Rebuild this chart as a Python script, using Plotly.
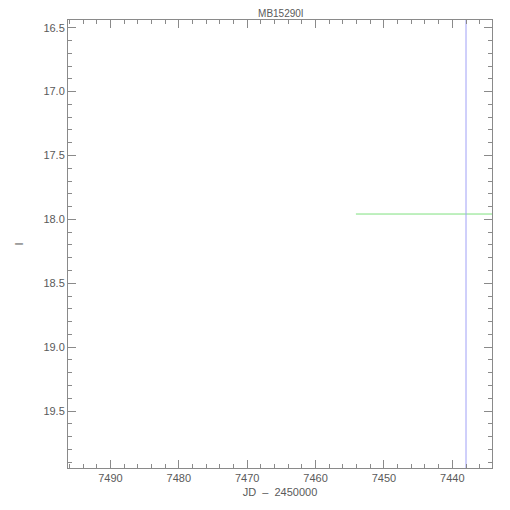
import plotly.graph_objects as go

# Data
title_text = "MB15290I"
baseline_jd = [7454.1, 7430.0]
baseline_mag = [17.958, 17.958]
event_jd = [7438.0, 7438.0]
event_mag = [15.0, 21.0]
x_range = [7496.2, 7434.2]
y_range = [19.945, 16.44]

axis_col = "#8a8a8a"
text_col = "#5a5a5a"
font_family = "Liberation Sans, Arial, sans-serif"

fig = go.Figure()
fig.add_trace(go.Scatter(x=baseline_jd, y=baseline_mag, mode="lines",
                         line=dict(color="#7ee07e", width=1),
                         showlegend=False, hoverinfo="skip"))
fig.add_trace(go.Scatter(x=event_jd, y=event_mag, mode="lines",
                         line=dict(color="#a0a0f6", width=1),
                         showlegend=False, hoverinfo="skip"))

common = dict(showgrid=False, zeroline=False, showline=True, linecolor=axis_col,
              linewidth=1, mirror="ticks", ticks="inside", tickcolor=axis_col,
              ticklen=8, tickwidth=1,
              tickfont=dict(family=font_family, size=11, color=text_col))

fig.update_xaxes(range=x_range, dtick=10, tick0=0,
                 minor=dict(dtick=2, ticklen=4, ticks="inside", tickcolor=axis_col),
                 title=dict(text="JD  \u2013  2450000", standoff=5,
                            font=dict(family=font_family, size=11, color=text_col)),
                 **common)
fig.update_yaxes(range=y_range, dtick=0.5, tick0=0, tickformat=".1f",
                 minor=dict(dtick=0.1, ticklen=4, ticks="inside", tickcolor=axis_col),
                 title=dict(text="I", standoff=17,
                            font=dict(family=font_family, size=11, color=text_col)),
                 **common)

fig.update_layout(
    width=510, height=510,
    margin=dict(l=54, r=26, t=11, b=50),
    plot_bgcolor="white", paper_bgcolor="white",
    title=dict(text=title_text, x=0.535, xanchor="center",
               yref="container", y=0.996, yanchor="top", pad=dict(t=0),
               font=dict(family=font_family, size=10, color=text_col)),
)

fig.write_html("out.html")
